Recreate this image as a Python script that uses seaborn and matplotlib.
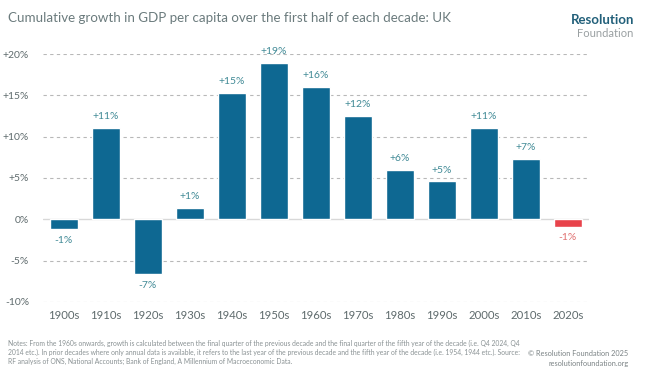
import numpy as np
import pandas as pd
import matplotlib
matplotlib.use("Agg")
import matplotlib.pyplot as plt
import seaborn as sns

# data
decades = ["1900s", "1910s", "1920s", "1930s", "1940s", "1950s", "1960s",
           "1970s", "1980s", "1990s", "2000s", "2010s", "2020s"]
growth = [-1.2, 11.1, -6.6, 1.4, 15.3, 18.9, 16.0, 12.5, 6.0, 4.6, 11.1, 7.3, -0.9]
labels = ["-1%", "+11%", "-7%", "+1%", "+15%", "+19%", "+16%", "+12%", "+6%",
          "+5%", "+11%", "+7%", "-1%"]
yticks = [-10, -5, 0, 5, 10, 15, 20]
ytick_labels = ["-10%", "-5%", "0%", "+5%", "+10%", "+15%", "+20%"]

blue = "#0e6892"
red = "#e8434b"
grey_txt = "#5f6b6d"

df = pd.DataFrame({"decade": decades, "growth": growth})
bar_colors = [blue] * (len(decades) - 1) + [red]

sns.set_style("white")
plt.rcParams["font.family"] = ["Lato", "DejaVu Sans"]

fig = plt.figure(figsize=(6.5, 3.83), dpi=100)
ax = fig.add_axes([0.066, 0.2115, 0.84, 0.6475])

sns.barplot(data=df, x="decade", y="growth", hue="decade", palette=bar_colors,
            legend=False, width=0.67, saturation=1, ax=ax, zorder=3)

ax.set_xlim(-0.5, len(decades) - 0.5)
ax.set_ylim(-10, 20)
ax.set_yticks(yticks)
ax.set_yticklabels(ytick_labels)
ax.set_xlabel("")
ax.set_ylabel("")
for y in yticks:
    if y == 0:
        ax.axhline(0, color="#d8d8d8", lw=1, zorder=2)
    else:
        ax.axhline(y, color="#b8b8b8", lw=0.8, ls=(0, (3, 3)), zorder=1)
for s in ax.spines.values():
    s.set_visible(False)
ax.tick_params(axis="y", length=0, pad=10, labelsize=7.5, labelcolor=grey_txt)
ax.tick_params(axis="x", length=0, pad=6, labelsize=8.2, labelcolor=grey_txt)

for i, (v, lab) in enumerate(zip(growth, labels)):
    col = "#e07070" if i == len(decades) - 1 else "#418a96"
    if v >= 0:
        ax.text(i, v + 0.8, lab, ha="center", va="bottom", fontsize=7.5, color=col)
    else:
        ax.text(i, v - 0.8, lab, ha="center", va="top", fontsize=7.5, color=col)

fig.text(0.012, 0.952, "Cumulative growth in GDP per capita over the first half of each decade: UK",
         fontsize=9.6, color="#6b7b7d", va="center", ha="left")
fig.text(0.975, 0.947, "Resolution", fontsize=9.5, fontweight="bold", color="#22607a",
         ha="right", va="center")
fig.text(0.975, 0.912, "Foundation", fontsize=8, color="#9aa0a2", ha="right", va="center")

notes = ("Notes: From the 1960s onwards, growth is calculated between the final quarter of the previous decade and the final quarter of the fifth year of the decade (i.e. Q4 2024, Q4\n"
         "2014 etc.). In prior decades where only annual data is available, it refers to the last year of the previous decade and the fifth year of the decade (i.e. 1954, 1944 etc.). Source:\n"
         "RF analysis of ONS, National Accounts; Bank of England, A Millennium of Macroeconomic Data.")
fig.text(0.012, 0.081, notes, fontsize=4.85, color="#8a9294", ha="left", va="center",
         linespacing=1.3)
fig.text(0.967, 0.064, "\u00a9 Resolution Foundation 2025\nresolutionfoundation.org",
         fontsize=5.3, color="#7a8284", ha="right", va="center", multialignment="right",
         linespacing=1.45)

fig.savefig("out.png", dpi=100)
